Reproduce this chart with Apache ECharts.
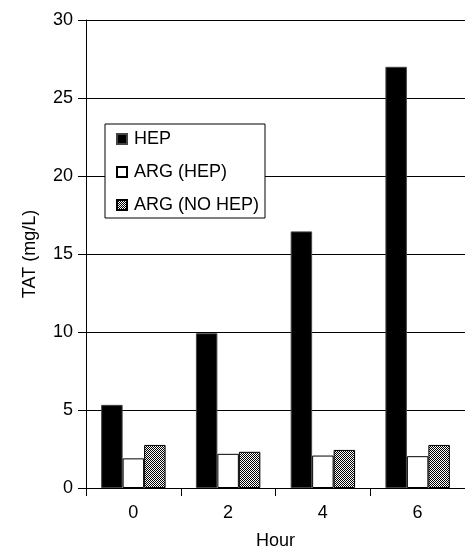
<!DOCTYPE html>
<html>
<head>
<meta charset="utf-8">
<script src="https://cdn.jsdelivr.net/npm/echarts@6/dist/echarts.min.js"></script>
<style>
html,body{margin:0;padding:0;background:#fff;}
#c{width:465px;height:555px;}
</style>
</head>
<body>
<div id="c"></div>
<script>
var hours = ['0', '2', '4', '6'];
var hep = [5.33, 9.92, 16.45, 27.0];
var argHep = [1.9, 2.19, 2.08, 2.04];
var argNoHep = [2.76, 2.32, 2.44, 2.76];
var seriesNames = ['HEP', 'ARG (HEP)', 'ARG (NO HEP)'];

function makePattern() {
  var cv = document.createElement('canvas');
  cv.width = 2; cv.height = 2;
  var ctx = cv.getContext('2d');
  ctx.fillStyle = '#fff';
  ctx.fillRect(0, 0, 2, 2);
  ctx.fillStyle = '#000';
  ctx.fillRect(0, 0, 1, 1);
  ctx.fillRect(1, 1, 1, 1);
  return cv;
}
var pat = { image: makePattern(), repeat: 'repeat' };

var FONT = 'Liberation Sans, Arial, Helvetica, sans-serif';
var chart = echarts.init(document.getElementById('c'), null, { renderer: 'canvas' });
chart.setOption({
  animation: false,
  backgroundColor: '#fff',
  textStyle: { fontFamily: FONT },
  grid: { left: 86, top: 20, width: 383, height: 475, containLabel: false },
  legend: {
    orient: 'vertical',
    left: 105,
    top: 124,
    data: seriesNames,
    backgroundColor: '#fff',
    borderColor: '#000',
    borderWidth: 1,
    borderRadius: 0,
    padding: [6, 6, 4, 11],
    itemGap: 15,
    itemWidth: 10,
    itemHeight: 10,
    icon: 'rect',
    textStyle: { fontFamily: FONT, fontSize: 18, color: '#000', lineHeight: 18, padding: [0, 0, 0, 2] }
  },
  xAxis: {
    type: 'category',
    data: hours,
    name: 'Hour',
    nameLocation: 'middle',
    nameGap: 44,
    nameTextStyle: { fontFamily: FONT, fontSize: 18, color: '#000' },
    axisLine: { lineStyle: { color: '#000', width: 1 } },
    axisTick: { show: true, length: 8, inside: false, alignWithLabel: false, lineStyle: { color: '#000' } },
    axisLabel: { fontFamily: FONT, fontSize: 18, color: '#000', margin: 16 },
    splitLine: { show: false }
  },
  yAxis: {
    type: 'value',
    min: 0,
    max: 30,
    interval: 5,
    name: 'TAT (mg/L)',
    nameLocation: 'middle',
    nameGap: 47,
    nameRotate: 90,
    nameTextStyle: { fontFamily: FONT, fontSize: 18, color: '#000' },
    axisLine: { show: true, lineStyle: { color: '#000', width: 1 } },
    axisTick: { show: true, length: 8, inside: false, lineStyle: { color: '#000' } },
    axisLabel: { fontFamily: FONT, fontSize: 18, color: '#000', margin: 13 },
    splitLine: { show: true, lineStyle: { color: '#000', width: 1 } }
  },
  series: [
    {
      name: seriesNames[0], type: 'bar', data: hep,
      barGap: '0%', barCategoryGap: '32%',
      itemStyle: { color: '#000', borderColor: '#444', borderWidth: 1 }
    },
    {
      name: seriesNames[1], type: 'bar', data: argHep,
      barGap: '0%', barCategoryGap: '32%',
      itemStyle: { color: '#fff', borderColor: '#000', borderWidth: 1 }
    },
    {
      name: seriesNames[2], type: 'bar', data: argNoHep,
      barGap: '0%', barCategoryGap: '32%',
      itemStyle: { color: pat, borderColor: '#000', borderWidth: 1 }
    }
  ]
});
</script>
</body>
</html>
